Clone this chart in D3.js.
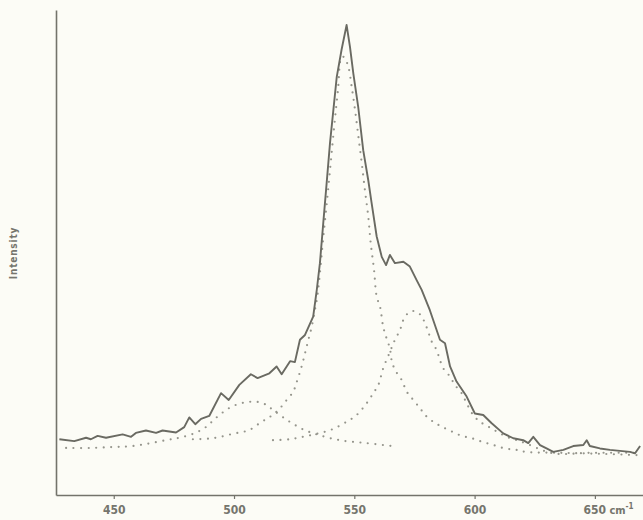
<!DOCTYPE html>
<html>
<head>
<meta charset="utf-8">
<script src="https://cdn.jsdelivr.net/npm/d3@7/dist/d3.min.js"></script>
<style>
  body { margin: 0; background: #fcfcf6; }
  svg { display: block; }
  .tick text { fill: #75756d; }
</style>
</head>
<body>
<script>
// measured spectrum (wavenumber, cm-1) and intensity (arbitrary units 0-100)
var spectrumWn = [427.4,433.6,438.5,440.5,443.3,446.8,453.7,457.2,459.2,463.4,467.6,470.3,475.9,479.3,481.4,483.9,486.3,489.7,
  494.6,497.8,502.2,507.0,509.8,514.7,517.7,519.8,523.3,525.3,527.4,529.5,532.9,534.4,535.7,537.1,538.5,539.9,541.3,542.7,
  544.7,546.8,548.2,549.6,551.6,553.7,555.8,557.2,559.3,561.4,563.2,564.8,566.9,570.4,573.1,575.9,578.0,581.4,585.6,587.7,
  589.8,592.5,596.7,600.1,603.6,607.1,611.9,616.1,620.2,622.3,624.4,627.2,629.9,632.7,636.9,641.0,645.2,646.6,647.9,652.1,
  656.3,660.4,664.6,666.7,668.8];
var spectrumInt = [11.5,11.1,11.8,11.5,12.2,11.8,12.5,12.0,12.8,13.3,12.8,13.3,12.9,14.0,16.0,14.6,15.7,16.3,
  21.0,19.6,22.7,24.9,24.1,25.1,26.5,24.9,27.6,27.4,32.0,33.0,36.8,42.3,47.8,56.1,64.3,72.6,79.4,86.2,
  91.8,96.9,92.4,86.9,80.1,71.1,64.9,60.2,53.3,49.1,47.4,49.5,47.8,48.1,47.1,44.3,42.3,38.1,32.0,31.3,
  26.5,23.4,20.3,16.8,16.5,14.8,12.7,11.7,11.3,10.7,12.0,10.3,9.6,8.9,9.3,10.1,10.3,11.3,10.1,9.6,
  9.3,9.1,8.9,8.6,10.1];

// fitted band near 507 cm-1
var band1Wn = [430.2,440.1,449.7,458.0,471.7,477.1,482.9,488.3,492.5,497.9,502.1,506.2,509.8,513.3,516.3,521.9,528.8,535.0,544.0,555.1,567.3];
var band1Int = [9.7,9.7,9.9,10.1,11.3,11.8,12.6,14.0,15.9,17.9,18.8,19.2,19.2,18.6,17.5,15.5,13.5,12.4,11.3,10.7,10.0];

// fitted band near 545 cm-1
var band2Wn = [482.9,491.1,499.4,506.3,511.5,514.9,518.4,521.9,524.6,526.0,528.1,529.5,530.9,532.3,533.6,534.6,535.4,537.0,539.1,541.5,543.2,
  544.7,545.7,547.5,548.9,550.3,551.7,553.1,554.4,555.8,556.8,558.2,559.3,560.7,562.0,563.4,564.8,565.5,566.9,569.7,571.8,574.5,
  577.3,579.4,582.8,586.3,590.5,594.6,598.8,603.0,607.8,612.6,617.5,621.0,635.5,652.1,668.8];
var band2Int = [11.5,11.7,12.6,13.4,15.1,16.1,17.5,19.6,21.3,23.2,26.5,29.2,32.0,34.7,38.1,40.9,44.3,52.6,62.9,75.3,83.5,
  90.3,90.3,88.3,84.2,79.4,73.9,68.4,62.9,57.4,52.0,46.4,40.9,38.8,34.7,32.3,30.2,27.8,25.8,23.7,21.3,19.6,
  17.9,16.5,15.1,14.1,13.1,12.2,11.7,11.0,10.3,9.6,9.3,8.9,8.7,8.5,8.2];

// fitted band near 575 cm-1
var band3Wn = [516.2,523.3,528.7,535.0,540.6,546.8,551.0,555.1,557.9,560.0,562.0,564.8,566.9,569.0,570.4,573.1,575.9,578.0,579.4,580.7,
  582.2,584.2,585.6,587.0,589.8,591.8,594.6,596.7,599.4,602.2,605.7,609.2,613.3,617.5,621.0,632.7,648.0,668.8];
var band3Int = [11.3,11.5,12.0,12.7,13.5,15.1,16.5,18.9,21.0,22.7,26.1,29.5,32.0,34.0,36.1,37.8,37.8,36.8,35.4,33.7,
  31.6,29.9,27.8,26.1,24.4,22.7,21.0,18.9,16.5,15.1,14.1,13.1,12.0,11.3,10.7,8.6,8.7,8.7];

var xTicks = [450, 500, 550, 600, 650];

var width = 643, height = 520;
var x = d3.scaleLinear().domain([426, 670]).range([56, 643]);
var y = d3.scaleLinear().domain([0, 100]).range([495, 10]);

var svg = d3.select("body").append("svg")
  .attr("width", width)
  .attr("height", height);

function pairs(xs, ys) {
  return xs.map(function (d, i) { return [d, ys[i]]; });
}

var dotted = d3.line()
  .x(function (d) { return x(d[0]); })
  .y(function (d) { return y(d[1]); })
  .curve(d3.curveCatmullRom);

[[band1Wn, band1Int], [band2Wn, band2Int], [band3Wn, band3Int]].forEach(function (b) {
  svg.append("path")
    .attr("d", dotted(pairs(b[0], b[1])))
    .attr("fill", "none")
    .attr("stroke", "#95958c")
    .attr("stroke-width", 2.2)
    .attr("stroke-linecap", "round")
    .attr("stroke-dasharray", "0,7.5");
});

var solid = d3.line()
  .x(function (d) { return x(d[0]); })
  .y(function (d) { return y(d[1]); });

svg.append("path")
  .attr("d", solid(pairs(spectrumWn, spectrumInt)))
  .attr("fill", "none")
  .attr("stroke", "#6a6a62")
  .attr("stroke-width", 1.9)
  .attr("stroke-linejoin", "round");

// axes
var xAxis = svg.append("g")
  .attr("transform", "translate(0,495)")
  .call(d3.axisBottom(x).tickValues(xTicks).tickSize(4).tickSizeOuter(0).tickPadding(6));
xAxis.select(".domain").attr("stroke", "#73736b").attr("stroke-width", 1.6);
xAxis.selectAll(".tick line").attr("stroke", "#73736b").attr("stroke-width", 1.2);
xAxis.selectAll(".tick text")
  .attr("font-family", "'DejaVu Sans Condensed', 'DejaVu Sans', sans-serif")
  .attr("font-weight", "bold")
  .attr("font-size", 12);

// unit after the last tick label
var lastTick = xAxis.selectAll(".tick").filter(function (d) { return d === 650; });
lastTick.select("text")
  .attr("text-anchor", "start")
  .attr("x", -12)
  .append("tspan").text(" cm")
  .attr("font-size", 11);
lastTick.select("text").append("tspan")
  .text("-1")
  .attr("font-size", 8)
  .attr("dy", -5);

var yAxis = svg.append("g")
  .attr("transform", "translate(56,0)")
  .call(d3.axisLeft(y).tickValues([]).tickSizeOuter(0));
yAxis.select(".domain").attr("stroke", "#73736b").attr("stroke-width", 1.6);

svg.append("text")
  .attr("transform", "translate(17,253) rotate(-90)")
  .attr("text-anchor", "middle")
  .attr("font-family", "'DejaVu Sans Condensed', 'DejaVu Sans', sans-serif")
  .attr("font-size", 10)
  .attr("font-weight", "bold")
  .attr("letter-spacing", 0.8)
  .attr("fill", "#75756d")
  .text("Intensity");
</script>
</body>
</html>
